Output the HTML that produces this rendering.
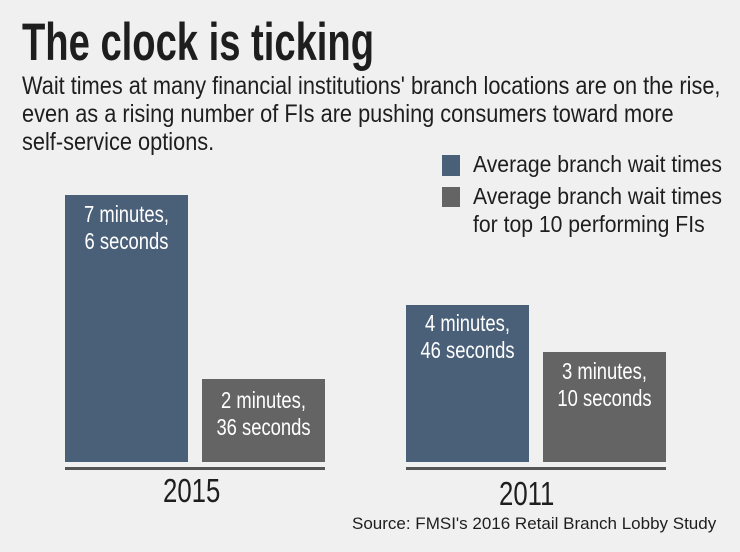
<!DOCTYPE html>
<html><head><meta charset="utf-8"><style>
body{margin:0;width:740px;height:552px;background:#f0f0f0;position:relative;overflow:hidden;font-family:"Liberation Sans",sans-serif;}
.t{position:absolute;white-space:nowrap;transform-origin:0 0;line-height:1;}
.b{position:absolute;}
.l{position:absolute;color:#fff;text-align:center;font-size:23px;line-height:27px;transform:scaleX(0.8);}
</style></head><body>
<div class="t" style="left:22px;top:16px;font-size:53px;font-weight:bold;color:#1e1e1e;transform:scaleX(0.72);">The clock is ticking</div>
<div class="t" style="left:22px;top:74px;font-size:25px;color:#1e1e1e;transform:scaleX(0.87);">Wait times at many financial institutions' branch locations are on the rise,</div>
<div class="t" style="left:22px;top:102px;font-size:25px;color:#1e1e1e;transform:scaleX(0.87);">even as a rising number of FIs are pushing consumers toward more</div>
<div class="t" style="left:22px;top:130px;font-size:25px;color:#1e1e1e;transform:scaleX(0.87);">self-service options.</div>
<div class="b" style="left:442px;top:155px;width:18px;height:21px;background:#4a6079"></div>
<div class="b" style="left:442px;top:187px;width:18px;height:20px;background:#646464"></div>
<div class="t" style="left:473px;top:153px;font-size:23px;color:#1e1e1e;transform:scaleX(0.92);">Average branch wait times</div>
<div class="t" style="left:473px;top:185px;font-size:23px;color:#1e1e1e;transform:scaleX(0.92);">Average branch wait times</div>
<div class="t" style="left:473px;top:213px;font-size:23px;color:#1e1e1e;transform:scaleX(0.92);">for top 10 performing FIs</div>

<div class="b" style="left:65px;top:195px;width:123px;height:267px;background:#4a6079"></div>
<div class="b" style="left:202px;top:379px;width:123px;height:83px;background:#646464"></div>
<div class="b" style="left:406px;top:305px;width:123px;height:157px;background:#4a6079"></div>
<div class="b" style="left:543px;top:352px;width:123px;height:110px;background:#646464"></div>
<div class="b" style="left:65px;top:467px;width:260px;height:3px;background:#555"></div>
<div class="b" style="left:406px;top:467px;width:260px;height:3px;background:#555"></div>

<div class="l" style="left:26px;top:201px;width:201px;">7 minutes,<br>6 seconds</div>
<div class="l" style="left:163px;top:387px;width:201px;">2 minutes,<br>36 seconds</div>
<div class="l" style="left:367px;top:310px;width:201px;">4 minutes,<br>46 seconds</div>
<div class="l" style="left:504px;top:358px;width:201px;">3 minutes,<br>10 seconds</div>

<div class="t" style="left:163px;top:474px;font-size:33px;color:#1e1e1e;transform:scaleX(0.78);">2015</div>
<div class="t" style="left:499px;top:477px;font-size:33px;color:#1e1e1e;transform:scaleX(0.78);">2011</div>
<div class="t" style="left:352px;top:515px;font-size:17px;color:#1e1e1e;transform:scaleX(1.0);">Source: FMSI's 2016 Retail Branch Lobby Study</div>
</body></html>
